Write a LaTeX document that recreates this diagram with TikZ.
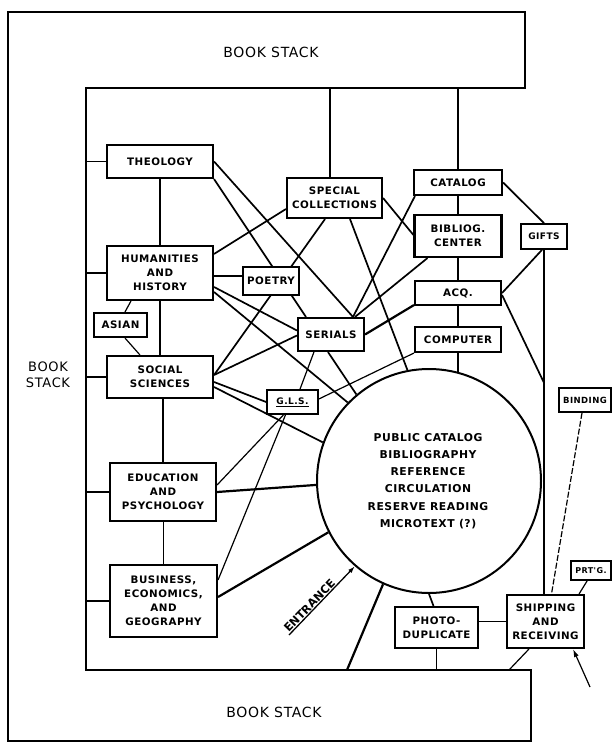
\documentclass[tikz,border=0pt]{standalone}
\usepackage{fontspec}
\usetikzlibrary{calc,arrows.meta}
\newfontfamily\labfont[LetterSpace=5]{DejaVu Sans}
\newfontfamily\entfont{DejaVu Sans}
\pgfdeclarelayer{bg}
\pgfsetlayers{bg,main}
\tikzset{
  box/.style={draw, line width=2.1pt, fill=white, inner sep=0pt, align=center,
    font=\labfont\bfseries\fontsize{10.3}{14}\selectfont},
  sbox/.style={box, line width=1.7pt, font=\labfont\bfseries\fontsize{9}{11}\selectfont},
  con/.style={line width=1.7pt},
  thk/.style={line width=2.2pt},
  thn/.style={line width=1.2pt},
  stacklab/.style={font=\labfont\fontsize{14}{16}\selectfont, inner sep=0pt},
}
\begin{document}
\begin{tikzpicture}[x=1pt,y=-1pt]
\useasboundingbox (0,0) rectangle (613,746);
% frame (book stacks)
\draw[line width=2.1pt] (8,12) -- (525,12) -- (525,88) -- (86,88) -- (86,670)
  -- (531,670) -- (531,741) -- (8,741) -- cycle;
\coordinate (fl) at (86,400);
\coordinate (topin) at (300,88);
\coordinate (botin) at (300,670);
\coordinate (circfoot) at (347,670);
\coordinate (shipfoot) at (509,670);
\node[stacklab] (bstop) at (271,52) {BOOK STACK};
\node[stacklab] (bsbot) at (274,712) {BOOK STACK};
\node[stacklab, align=center, font=\labfont\fontsize{13}{15.5}\selectfont] (bsleft) at (48,375) {BOOK\\STACK};

% boxes
\node[box,minimum width=106pt,minimum height=33pt] (theo) at (160,161.5) {THEOLOGY};
\node[box,minimum width=106pt,minimum height=54pt] (hum) at (160,273) {HUMANITIES\\AND\\HISTORY};
\node[box,minimum width=53pt,minimum height=24pt] (asian) at (120.5,325) {ASIAN};
\node[box,minimum width=106pt,minimum height=42pt] (soc) at (160,377) {SOCIAL\\SCIENCES};
\node[box,minimum width=106pt,minimum height=58pt] (edu) at (163,492) {EDUCATION\\AND\\PSYCHOLOGY};
\node[box,minimum width=107pt,minimum height=72pt] (bus) at (163.5,601) {BUSINESS,\\ECONOMICS,\\AND\\GEOGRAPHY};
\node[box,minimum width=56pt,minimum height=28pt] (poe) at (271,281) {POETRY};
\node[box,minimum width=95pt,minimum height=40pt] (sc) at (334.5,198) {SPECIAL\\COLLECTIONS};
\node[box,minimum width=66pt,minimum height=33pt] (ser) at (331,334.5) {SERIALS};
\node[sbox,minimum width=51pt,minimum height=24pt] (gls) at (292.5,402) {\underline{G.L.S.}};
\node[box,minimum width=88pt,minimum height=25pt] (cat) at (458,182.5) {CATALOG};
\node[box,minimum width=87pt,minimum height=42pt] (bib) at (458,236) {BIBLIOG.\\CENTER};
\node[box,minimum width=86pt,minimum height=24pt] (acq) at (458,293) {ACQ.};
\node[box,minimum width=86pt,minimum height=25pt] (comp) at (458,339.5) {COMPUTER};
\node[sbox,minimum width=46pt,minimum height=25pt] (gifts) at (544,236.5) {GIFTS};
\node[sbox,minimum width=52pt,minimum height=24pt,font=\labfont\bfseries\fontsize{8.5}{10}\selectfont] (bind) at (585,400) {BINDING};
\node[sbox,minimum width=40pt,minimum height=19pt,font=\labfont\bfseries\fontsize{8}{10}\selectfont] (prt) at (591,570.5) {PRT'G.};
\node[box,minimum width=83pt,minimum height=41pt] (photo) at (436.5,627.5) {PHOTO-\\DUPLICATE};
\node[box,minimum width=77pt,minimum height=53pt] (ship) at (545.5,621.5) {SHIPPING\\AND\\RECEIVING};

% central circle
\node[draw, circle, line width=2pt, fill=white, minimum size=224pt, inner sep=0pt] (circ) at (429,481) {};
\node[align=center, inner sep=0pt, font=\labfont\bfseries\fontsize{10.8}{17.3}\selectfont] (circtext) at (428,481)
  {PUBLIC CATALOG\\BIBLIOGRAPHY\\REFERENCE\\CIRCULATION\\RESERVE READING\\MICROTEXT (?)};

% entrance
\node[rotate=46, anchor=south west, inner sep=1.2pt, font=\entfont\bfseries\fontsize{11.3}{12}\selectfont] (ent) at (289,635) {ENTRANCE};

\begin{pgfonlayer}{bg}
% spine on the left
\draw[con] (theo.west) -- (theo.west -| fl);
\draw[con] (hum.west) -- (hum.west -| fl);
\draw[con] (soc.west) -- (soc.west -| fl);
\draw[con] (edu.west) -- (edu.west -| fl);
\draw[thk] (bus.west) -- (bus.west -| fl);
\draw[con] (theo.south) -- (hum.north);
\draw[thk] (hum.south) -- (soc.north);
\draw[thk] (edu.north) -- (edu.north |- soc.south);
\draw[con] (bus.north) -- (bus.north |- edu.south);
% asian
\draw[thn] ($(asian.north)+(4.5,0)$) -- ($(hum.south west)+(25,0)$);
\draw[thn] ($(asian.south)+(4.5,0)$) -- ($(soc.north west)+(34,0)$);
% theology
\draw[con] (theo.east) -- ($(ser.north)+(22,0)$);
\draw[con] (theo.south east) -- ($(ser.north west)+(9,0)$);
% humanities
\draw[con] ($(hum.north east)+(0,9)$) -- ($(sc.west)+(0,11)$);
\draw[con] ($(hum.east)+(0,3)$) -- ($(poe.west)+(0,-5)$);
\draw[con] ($(hum.east)+(0,14)$) -- ($(ser.west)+(0,-4)$);
\draw[con] ($(hum.east)+(0,19)$) -- (circ.136);
% special collections
\draw[con] ($(sc.north)+(-4.5,0)$) -- ++(0,-90);
\draw[con] ($(sc.south)+(-9.5,0)$) -- ($(soc.east)+(0,-2)$);
\draw[con] (sc.east) -- ($(bib.west)+(0,-1)$);
\draw[con] ($(sc.south)+(15.5,0)$) -- (circ.101);
% social sciences
\draw[con] ($(ser.west)+(0,1)$) -- ($(soc.east)+(0,-2)$);
\draw[con] ($(soc.east)+(0,5)$) -- (gls.west);
\draw[con] ($(soc.east)+(0,10)$) -- (circ.160);
% serials
\draw[thk] (ser.east) -- ($(acq.south west)+(0,-1)$);
\draw[thn] ($(ser.south west)+(17,0)$) -- ($(gls.north)+(7.5,0)$);
\draw[con] ($(ser.south)+(-3,0)$) -- (circ.130);
\draw[con] ($(cat.south west)+(2,0)$) -- ($(ser.north)+(22,0)$);
\draw[con] ($(bib.south west)+(14,0)$) -- ($(ser.north)+(24,0)$);
% catalog column
\draw[con] (cat.north) -- (cat.north |- topin);
\draw[thk] (cat.south) -- (bib.north);
\draw[con] (bib.south) -- (acq.north);
\draw[thk] (acq.south) -- (comp.north);
\draw[con] (comp.south) -- (comp.south |- circ.75);
\draw[con] (cat.east) -- (gifts.north);
\draw[con] ($(gifts.south)+(-2,0)$) -- (acq.east);
\draw[thn] (gifts.south) -- (gifts.south |- ship.north);
\draw[con] ($(acq.east)+(0,2)$) -- ($(gifts.south)+(0,133)$);
% computer, G.L.S.
\draw[thn] (comp.south west) -- ($(gls.east)+(0,-3)$);
\draw[thn] ($(gls.south)+(-9,0)$) -- ($(edu.east)+(0,-7)$);
\draw[thn] ($(gls.south)+(-7,0)$) -- ($(bus.east)+(0,-21)$);
% education, business
\draw[thk] (edu.east) -- (circ.182);
\draw[thk] ($(bus.east)+(0,-4)$) -- (circ.207);
% circle to bottom
\draw[thk] (circ.246) -- (circfoot);
\draw[con] (circ.270) -- ($(photo.north)+(-3,0)$);
\draw[con] (photo.south) -- (photo.south |- botin);
\draw[con] (ship.west) -- (ship.west -| photo.east);
\draw[thn] ($(ship.south west)+(23,0)$) -- (shipfoot);
\draw[thn, dash pattern=on 6pt off 2pt] ($(bind.south)+(-3,0)$) -- ($(ship.north)+(6,0)$);
\draw[thn] ($(prt.south west)+(17,0)$) -- ($(ship.north east)+(-6,0)$);
\coordinate (arrs) at (590,687);
\draw[line width=1.2pt, -{Latex[length=8pt,width=5pt]}] (arrs) -- ($(ship.south east)+(-12,0)$);
% entrance arrow
\draw[line width=1.3pt, -{Latex[length=7pt,width=4.5pt]}] (ent.south west) -- (circ.229);
\end{pgfonlayer}
\end{tikzpicture}
\end{document}
